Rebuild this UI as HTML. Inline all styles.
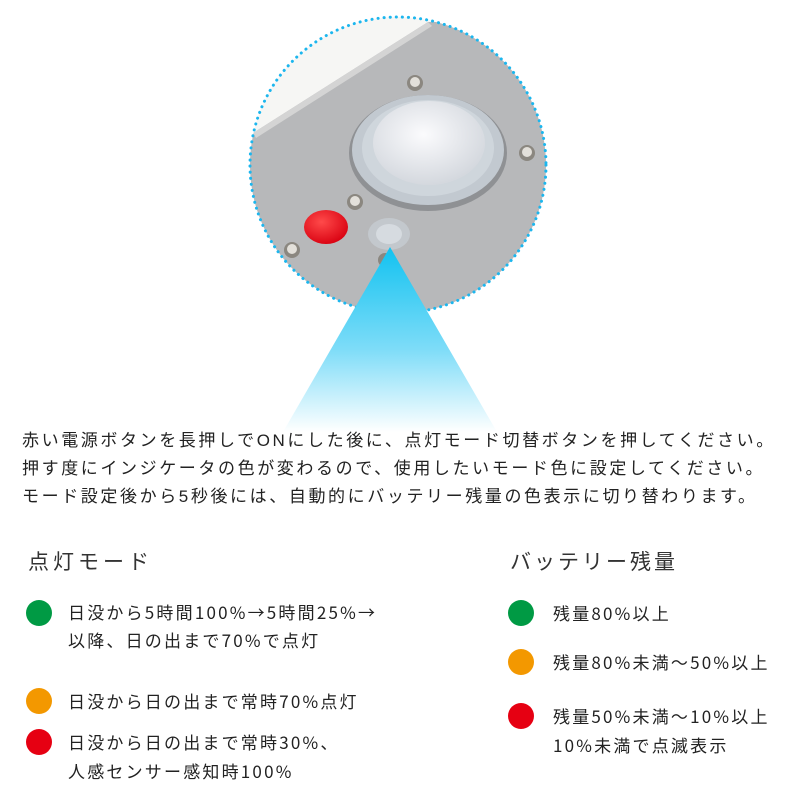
<!DOCTYPE html>
<html><head><meta charset="utf-8"><style>
body{margin:0;width:800px;height:800px;background:#fff;position:relative;overflow:hidden;font-family:"Liberation Sans","Noto Sans CJK JP",sans-serif;color:#222}
.t{position:absolute;white-space:nowrap;font-size:17px;line-height:28px}
.p{left:22px;letter-spacing:2.6px}
.h{position:absolute;font-size:21px;letter-spacing:4px;white-space:nowrap;line-height:30px;color:#333}
.b{letter-spacing:2.2px;font-family:"Noto Sans CJK JP",sans-serif}
.d{position:absolute;width:26px;height:26px;border-radius:50%}
</style></head><body>
<svg width="800" height="440" style="position:absolute;left:0;top:0">
<defs>
<clipPath id="c"><circle cx="398" cy="165" r="148"/></clipPath>
<linearGradient id="g" x1="0" y1="0" x2="0" y2="1"><stop offset="0" stop-color="#12c2f0"/><stop offset="0.55" stop-color="#7ddcf8"/><stop offset="1" stop-color="#fff"/></linearGradient>
<radialGradient id="dome" cx="0.45" cy="0.4" r="0.6"><stop offset="0" stop-color="#fbfbfd"/><stop offset="1" stop-color="#d4d8de"/></radialGradient>
<radialGradient id="red" cx="0.4" cy="0.35" r="0.7"><stop offset="0" stop-color="#ff4a4a"/><stop offset="1" stop-color="#d80010"/></radialGradient>
</defs>
<g clip-path="url(#c)">
<rect x="240" y="10" width="320" height="320" fill="#f6f6f4"/>
<polygon points="253,133 428,22 560,22 560,330 240,330 240,140" fill="#b7b8ba"/>
<polygon points="253,133 428,22 432,26 256,138" fill="#d4d4d4"/>
<ellipse cx="428" cy="153" rx="79" ry="58" fill="#8f9194"/>
<ellipse cx="428" cy="150" rx="76" ry="55" fill="#c2c9d0"/>
<ellipse cx="428" cy="148" rx="66" ry="48" fill="#cfd6dc"/>
<ellipse cx="429" cy="143" rx="56" ry="42" fill="url(#dome)"/>
<ellipse cx="326" cy="227" rx="22" ry="17" fill="url(#red)"/>
<ellipse cx="389" cy="234" rx="21" ry="16" fill="#c3c8cd"/>
<ellipse cx="389" cy="234" rx="13" ry="10" fill="#d6dbe0"/>
<circle cx="415" cy="83" r="8" fill="#8b8780"/><circle cx="415" cy="82" r="5" fill="#e3e0da"/>
<circle cx="527" cy="153" r="8" fill="#8b8780"/><circle cx="527" cy="152" r="5" fill="#e3e0da"/>
<circle cx="355" cy="202" r="8" fill="#8b8780"/><circle cx="355" cy="201" r="5" fill="#e3e0da"/>
<circle cx="292" cy="250" r="8" fill="#8b8780"/><circle cx="292" cy="249" r="5" fill="#e3e0da"/>
<circle cx="385" cy="260" r="7" fill="#8b8780"/>
</g>
<circle cx="398" cy="165" r="148" fill="none" stroke="#1cb6ee" stroke-width="3" stroke-dasharray="0.1 6" stroke-linecap="round"/>
<polygon points="390,247 283,432 497,432" fill="url(#g)"/>
</svg>
<div class="t p" style="top:427px">赤い電源ボタンを長押しでONにした後に、点灯モード切替ボタンを押してください。</div>
<div class="t p" style="top:455px">押す度にインジケータの色が変わるので、使用したいモード色に設定してください。</div>
<div class="t p" style="top:483px">モード設定後から5秒後には、自動的にバッテリー残量の色表示に切り替わります。</div>

<div class="h" style="left:28px;top:548px">点灯モード</div>
<div class="h" style="left:510px;top:548px;letter-spacing:3px">バッテリー残量</div>

<div class="d" style="left:26px;top:600px;background:#009a44"></div>
<div class="t b" style="left:68px;top:598px">日没から5時間100%→5時間25%→</div>
<div class="t b" style="left:68px;top:626px">以降、日の出まで70%で点灯</div>
<div class="d" style="left:26px;top:688px;background:#f39800"></div>
<div class="t b" style="left:68px;top:687px">日没から日の出まで常時70%点灯</div>
<div class="d" style="left:26px;top:729px;background:#e60012"></div>
<div class="t b" style="left:68px;top:728px">日没から日の出まで常時30%、</div>
<div class="t b" style="left:68px;top:757px">人感センサー感知時100%</div>

<div class="d" style="left:508px;top:600px;background:#009a44"></div>
<div class="t b" style="left:553px;top:599px">残量80%以上</div>
<div class="d" style="left:508px;top:649px;background:#f39800"></div>
<div class="t b" style="left:553px;top:648px">残量80%未満～50%以上</div>
<div class="d" style="left:508px;top:703px;background:#e60012"></div>
<div class="t b" style="left:553px;top:702px">残量50%未満～10%以上</div>
<div class="t b" style="left:553px;top:731px">10%未満で点滅表示</div>
</body></html>
